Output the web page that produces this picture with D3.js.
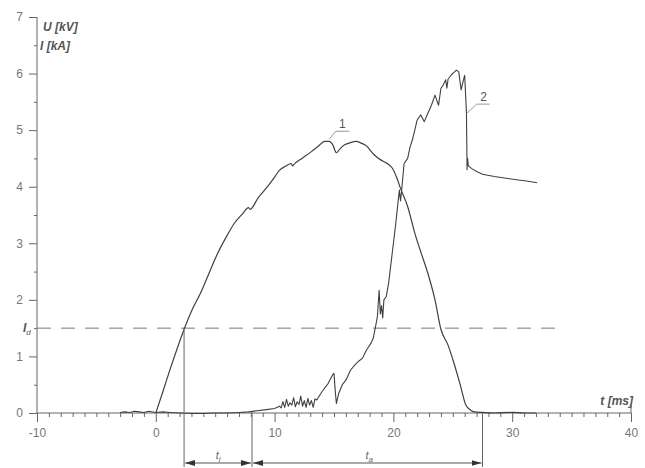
<!DOCTYPE html>
<html><head><meta charset="utf-8">
<script src="https://cdn.jsdelivr.net/npm/d3@7"></script>
<style>body{margin:0;background:#fff}svg{display:block}</style>
</head><body>
<svg id="c" width="645" height="468"></svg>
<script>
// Curve 1
const t1 = [0, 0.6, 1.2, 1.8, 2.38, 3.0, 3.79, 4.5, 5.2, 5.9, 6.6, 7.3, 7.8, 7.95, 8.6, 9.4, 10.0, 10.4, 10.9, 11.4, 11.5, 11.65, 12.3, 13.1, 13.7, 14.2, 14.6, 14.9, 15.2, 15.5, 15.9, 16.4, 16.85, 17.3, 17.8, 18.1, 18.4, 18.96, 19.4, 19.9, 20.3, 20.6, 21.2, 21.8, 22.3, 22.9, 23.5, 24.0, 24.6, 25.1, 25.6, 26.1, 26.5, 26.8, 27.5, 28.5, 30, 31, 32];
const v1 = [0, 0.38, 0.77, 1.14, 1.48, 1.8, 2.13, 2.48, 2.82, 3.1, 3.35, 3.52, 3.63, 3.6, 3.8, 4.0, 4.17, 4.29, 4.36, 4.41, 4.37, 4.40, 4.50, 4.62, 4.72, 4.80, 4.80, 4.74, 4.60, 4.67, 4.74, 4.78, 4.80, 4.77, 4.71, 4.63, 4.56, 4.47, 4.42, 4.33, 4.15, 3.97, 3.65, 3.18, 2.85, 2.47, 2.0, 1.48, 1.2, 0.88, 0.52, 0.14, 0.05, 0.02, 0.01, 0.0, 0.01, 0.0, 0.0];
// Curve 2
const t2 = [-3, -2.6, -2.2, -1.8, -1.4, -1.0, -0.6, 0, 0.6, 1.2, 2, 3, 4, 5, 6, 7, 7.8, 8.5, 9.3, 10.0, 10.4, 10.55, 10.7, 10.85, 11.0, 11.15, 11.3, 11.45, 11.6, 11.75, 11.9, 12.05, 12.2, 12.35, 12.5, 12.65, 12.8, 12.95, 13.1, 13.25, 13.4, 13.55, 14.0, 14.5, 14.9, 15.0, 15.1, 15.2, 15.4, 15.7, 16.0, 16.4, 16.8, 17.1, 17.4, 17.7, 18.1, 18.3, 18.5, 18.65, 18.8, 18.9, 19.0, 19.1, 19.2, 19.4, 19.6, 19.8, 20.0, 20.2, 20.4, 20.5, 20.6, 20.7, 20.9, 21.2, 21.4, 21.6, 21.8, 22.0, 22.3, 22.6, 22.9, 23.2, 23.5, 23.8, 24.0, 24.2, 24.4, 24.5, 24.6, 24.85, 25.1, 25.3, 25.5, 25.7, 25.85, 26.0, 26.15, 26.2, 26.25, 26.3, 26.4, 26.6, 27.0, 27.5, 28.5, 29.5, 30.5, 31.2, 32.1];
const v2 = [0.01, 0.02, 0.01, 0.03, 0.02, 0.01, 0.03, 0.01, 0.02, 0.01, 0.0, -0.01, -0.01, 0.0, 0.0, 0.01, 0.02, 0.04, 0.06, 0.08, 0.12, 0.09, 0.2, 0.1, 0.24, 0.12, 0.18, 0.14, 0.27, 0.11, 0.2, 0.15, 0.3, 0.12, 0.22, 0.1, 0.26, 0.14, 0.22, 0.1, 0.25, 0.23, 0.38, 0.52, 0.68, 0.7, 0.4, 0.17, 0.35, 0.5, 0.58, 0.76, 0.86, 0.92, 0.97, 1.1, 1.23, 1.32, 1.53, 1.7, 2.17, 1.75, 1.9, 1.68, 2.0, 2.06, 2.3, 2.65, 3.0, 3.35, 3.75, 3.94, 3.75, 3.95, 4.41, 4.5, 4.7, 4.83, 5.0, 5.18, 5.27, 5.15, 5.3, 5.44, 5.62, 5.44, 5.74, 5.8, 5.89, 5.74, 5.9, 5.97, 6.02, 6.06, 6.03, 5.71, 5.85, 5.97, 5.3, 4.3, 4.5, 4.38, 4.35, 4.32, 4.27, 4.22, 4.18, 4.15, 4.12, 4.10, 4.07];

const xTicks = [-10, 0, 10, 20, 30, 40];
const yTicks = [0, 1, 2, 3, 4, 5, 6, 7];
const Id = 1.5;
const tI = 2.38, tStart = 8.1, tEnd = 27.5;

const svg = d3.select("#c");
const x = d3.scaleLinear().domain([-10, 40]).range([37, 631]);
const y = d3.scaleLinear().domain([0, 7]).range([413, 17]);

const axisCol = "#666", lblCol = "#777";
const fmt = d => String(d);

// y axis
svg.append("g").attr("transform", `translate(${x(-10)},0)`)
  .call(d3.axisLeft(y).tickValues(yTicks).tickSize(8).tickPadding(6).tickFormat(fmt));
svg.append("g").attr("transform", `translate(${x(-10)},0)`)
  .call(d3.axisLeft(y).tickValues(d3.range(0.5, 7, 1)).tickSize(3).tickFormat(""));
// x axis
svg.append("g").attr("transform", `translate(0,${y(0)})`)
  .call(d3.axisBottom(x).tickValues(xTicks).tickSize(9).tickPadding(6).tickFormat(fmt));
svg.append("g").attr("transform", `translate(0,${y(0)})`)
  .call(d3.axisBottom(x).tickValues(d3.range(-10, 41, 1).filter(d => d % 10 !== 0)).tickSize(4).tickFormat(""));
svg.selectAll(".domain").remove();
svg.selectAll(".tick line").attr("stroke", axisCol);
svg.selectAll(".tick text").attr("fill", lblCol).style("font-family", "Liberation Sans, Arial, sans-serif").style("font-size", "12px");
svg.append("line").attr("x1", x(-10)).attr("x2", x(-10)).attr("y1", y(0)).attr("y2", y(7)).attr("stroke", axisCol);
svg.append("line").attr("x1", x(-10)).attr("x2", x(40)).attr("y1", y(0)).attr("y2", y(0)).attr("stroke", axisCol);
svg.append("line").attr("x1", x(40)).attr("x2", x(40)).attr("y1", y(0)).attr("y2", y(0) - 9).attr("stroke", axisCol);

const font = "Liberation Sans, Arial, sans-serif";
// axis titles
svg.append("text").attr("x", 43).attr("y", 31).text("U [kV]")
  .attr("font-family", font).attr("font-size", 12).attr("font-weight", "bold").attr("font-style", "italic").attr("fill", "#555");
svg.append("text").attr("x", 40).attr("y", 50).text("I [kA]")
  .attr("font-family", font).attr("font-size", 12).attr("font-weight", "bold").attr("font-style", "italic").attr("fill", "#555");
svg.append("text").attr("x", 633).attr("y", 405).attr("text-anchor", "end").text("t [ms]")
  .attr("font-family", font).attr("font-size", 12).attr("font-weight", "bold").attr("font-style", "italic").attr("fill", "#555");

// Id dashed line
svg.append("line").attr("x1", x(-10)).attr("x2", x(33.7)).attr("y1", y(Id)).attr("y2", y(Id))
  .attr("stroke", "#777").attr("stroke-dasharray", "14,10");
const idT = svg.append("text").attr("x", 23).attr("y", y(Id) + 4)
  .attr("font-family", font).attr("font-size", 12).attr("font-weight", "bold").attr("font-style", "italic").attr("fill", "#555");
idT.append("tspan").text("I");
idT.append("tspan").attr("dy", 3).attr("font-size", 8).attr("font-weight", "normal").text("d");

// curves
const line = d3.line().x(d => x(d[0])).y(d => y(d[1]));
const smooth = d3.line().x(d => x(d[0])).y(d => y(d[1])).curve(d3.curveMonotoneX);
svg.append("path").datum(t1.map((t, i) => [t, v1[i]])).attr("d", smooth)
  .attr("fill", "none").attr("stroke", "#404040").attr("stroke-width", 1.2).attr("stroke-linejoin", "round");
svg.append("path").datum(t2.map((t, i) => [t, v2[i]])).attr("d", line)
  .attr("fill", "none").attr("stroke", "#404040").attr("stroke-width", 1.1).attr("stroke-linejoin", "round");

// leaders
const lead = (pts) => svg.append("path").datum(pts).attr("d", line).attr("fill", "none").attr("stroke", "#999").attr("stroke-width", 1);
lead([[14.59, 4.84], [15.15, 4.98], [16.3, 4.98]]);
lead([[26.18, 5.30], [27.02, 5.46], [28.1, 5.46]]);
svg.append("text").attr("x", x(15.7)).attr("y", y(5.03)).attr("text-anchor", "middle").text("1")
  .attr("font-family", font).attr("font-size", 12).attr("fill", "#555");
svg.append("text").attr("x", x(27.6)).attr("y", y(5.52)).attr("text-anchor", "middle").text("2")
  .attr("font-family", font).attr("font-size", 12).attr("fill", "#555");

// vertical markers
const vCol = "#666";
svg.append("line").attr("x1", x(tI)).attr("x2", x(tI)).attr("y1", y(Id)).attr("y2", 467).attr("stroke", vCol);
svg.append("line").attr("x1", x(tStart)).attr("x2", x(tStart)).attr("y1", y(0.03)).attr("y2", 467).attr("stroke", vCol);
svg.append("line").attr("x1", x(tEnd)).attr("x2", x(tEnd)).attr("y1", y(0)).attr("y2", 467).attr("stroke", vCol);

// arrows
const defs = svg.append("defs");
defs.append("marker").attr("id", "ah").attr("viewBox", "0 0 10 6").attr("refX", 10).attr("refY", 3)
  .attr("markerWidth", 10).attr("markerHeight", 6).attr("markerUnits", "userSpaceOnUse").attr("orient", "auto-start-reverse")
  .append("path").attr("d", "M0,0 L10,3 L0,6 Z").attr("fill", "#333");
const ay = 463;
[[tI, tStart], [tStart, tEnd]].forEach(([a, b]) => {
  svg.append("line").attr("x1", x(a) + 1).attr("x2", x(b) - 1).attr("y1", ay).attr("y2", ay)
    .attr("stroke", "#555").attr("marker-start", "url(#ah)").attr("marker-end", "url(#ah)");
});
const sub = (tx, s) => {
  const t = svg.append("text").attr("x", tx).attr("y", 459).attr("text-anchor", "middle")
    .attr("font-family", font).attr("font-size", 11).attr("font-style", "italic").attr("fill", "#666");
  t.append("tspan").text("t");
  t.append("tspan").attr("dy", 3).attr("font-size", 8).text(s);
};
sub(x((tI + tStart) / 2), "i");
sub(x((tStart + tEnd) / 2) + 2, "a");
</script>
</body></html>
